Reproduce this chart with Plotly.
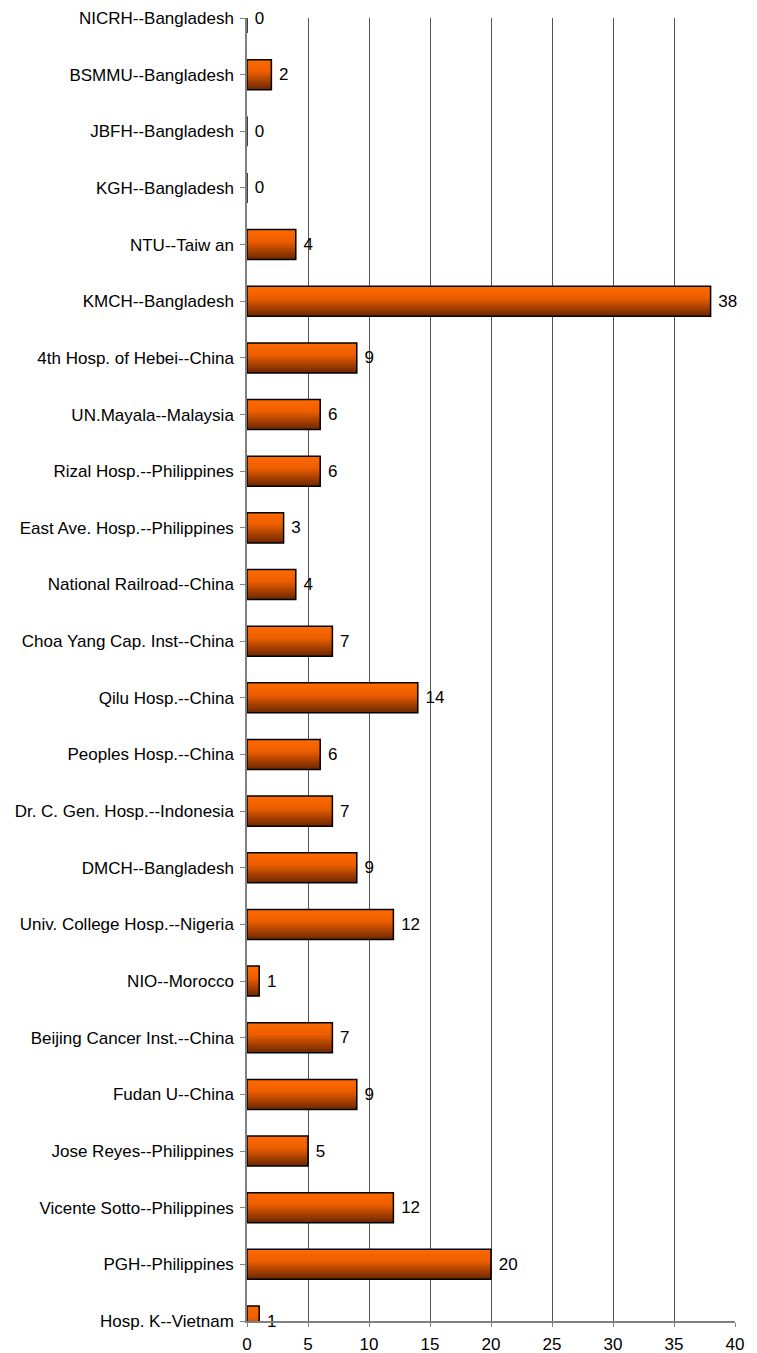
import plotly.graph_objects as go

# Data (top to bottom as shown)
hospitals = [
    "NICRH--Bangladesh", "BSMMU--Bangladesh", "JBFH--Bangladesh", "KGH--Bangladesh",
    "NTU--Taiw an", "KMCH--Bangladesh", "4th Hosp. of Hebei--China", "UN.Mayala--Malaysia",
    "Rizal Hosp.--Philippines", "East Ave. Hosp.--Philippines", "National Railroad--China",
    "Choa Yang Cap. Inst--China", "Qilu Hosp.--China", "Peoples Hosp.--China",
    "Dr. C. Gen. Hosp.--Indonesia", "DMCH--Bangladesh", "Univ. College Hosp.--Nigeria",
    "NIO--Morocco", "Beijing Cancer Inst.--China", "Fudan U--China",
    "Jose Reyes--Philippines", "Vicente Sotto--Philippines", "PGH--Philippines",
    "Hosp. K--Vietnam",
]
values = [0, 2, 0, 0, 4, 38, 9, 6, 6, 3, 4, 7, 14, 6, 7, 9, 12, 1, 7, 9, 5, 12, 20, 1]
x_ticks = [0, 5, 10, 15, 20, 25, 30, 35, 40]

BAR_W = 0.53
N = 24
FONT = "Liberation Sans, Arial"


def lerp(c1, c2, t):
    return tuple(round(a + (b - a) * t) for a, b in zip(c1, c2))


top_c = (255, 106, 0)
mid_c = (236, 94, 0)
bot_c = (106, 38, 0)


def grad(t):  # t=0 top, 1 bottom
    if t < 0.4:
        return lerp(top_c, mid_c, t / 0.4)
    return lerp(mid_c, bot_c, (t - 0.4) / 0.6)


fig = go.Figure()
sw = BAR_W / N
for i in range(N):
    # i=0 is bottom slice
    t = 1 - (i + 0.5) / N
    c = grad(t)
    fig.add_trace(go.Bar(
        y=hospitals, x=values, orientation="h",
        width=sw * 1.6 if i < N - 1 else sw,
        offset=-BAR_W / 2 + i * sw,
        marker=dict(color="rgb(%d,%d,%d)" % c, line=dict(width=0)),
        cliponaxis=False, showlegend=False, hoverinfo="skip",
    ))

fig.add_trace(go.Bar(
    y=hospitals, x=values, orientation="h",
    width=BAR_W, offset=-BAR_W / 2,
    marker=dict(color="rgba(0,0,0,0)", line=dict(color="black", width=1.5)),
    text=values, texttemplate=" %{x}", textposition="outside",
    constraintext="none",
    textfont=dict(family=FONT, size=17, color="black"),
    cliponaxis=False, showlegend=False,
))

fig.update_layout(
    width=757, height=1353,
    margin=dict(l=247, r=22, t=18, b=32),
    plot_bgcolor="white", paper_bgcolor="white",
    barmode="overlay",
    font=dict(family=FONT, size=17, color="black"),
)
fig.update_xaxes(
    range=[0, 40], tickvals=x_ticks, showgrid=True, gridcolor="#555555", gridwidth=1,
    zeroline=False, showline=True, linecolor="#808080", linewidth=1.5,
    ticks="outside", ticklen=4, tickcolor="#808080",
    tickfont=dict(size=17), ticklabelstandoff=3, automargin=False,
)
fig.update_yaxes(
    type="category", categoryorder="array", categoryarray=list(reversed(hospitals)),
    range=[0, len(hospitals) - 1], autorange=False,
    showline=True, linecolor="#808080", linewidth=1.5,
    ticks="outside", ticklen=5, tickcolor="#808080", showgrid=False,
    tickfont=dict(size=17), ticklabelstandoff=3, automargin=False,
)

fig.write_html(
    "out.html",
    config={"displayModeBar": False},
    post_script="document.body.style.margin='0';document.body.style.overflow='hidden';",
)
